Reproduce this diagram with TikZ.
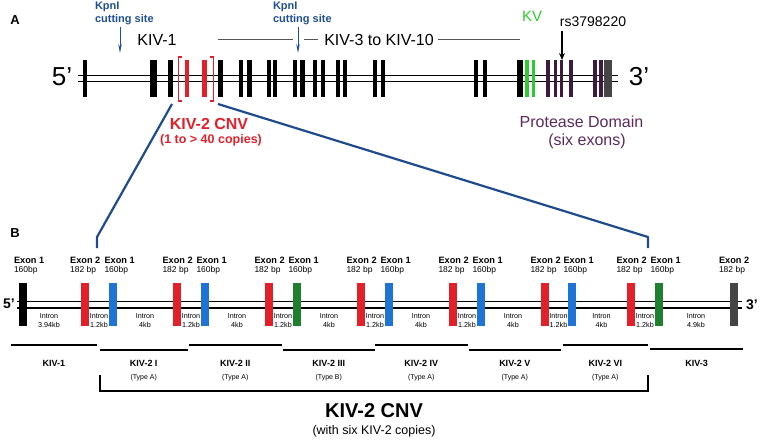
\documentclass[tikz,border=0pt]{standalone}
\usepackage{fontspec}
\setmainfont{Liberation Sans}
\usetikzlibrary{arrows.meta}
\definecolor{cred}{HTML}{E3202A}
\definecolor{cblue}{HTML}{1E73D6}
\definecolor{cgreen}{HTML}{1E7F2E}
\definecolor{lgreen}{HTML}{2DCB2D}
\definecolor{cpurple}{HTML}{3E1B3C}
\definecolor{cgray}{HTML}{454545}
\definecolor{navy}{HTML}{1F4B8E}
\definecolor{kblue}{HTML}{1F5096}
\definecolor{ptext}{HTML}{5B2A5B}
\definecolor{lgray}{HTML}{555555}
\newcommand\fsz[1]{\fontsize{#1}{#1}\selectfont}
\begin{document}
\begin{tikzpicture}[x=1pt,y=-1pt,
  every node/.style={inner sep=0pt, outer sep=0pt},
  gene/.style={line width=1.6pt},
  connect/.style={navy, line width=2.2pt, line join=round},
  kpn/.style={kblue, line width=0.8pt, -{Stealth[length=9pt,width=3.5pt]}},
  kpntxt/.style={kblue, font=\fsz{11}\bfseries},
  exA/.style={font=\fsz{9.2}\bfseries, anchor=base west},
  exB/.style={font=\fsz{8.5}, anchor=base west},
  intr/.style={font=\fsz{7.2}, anchor=base},
  seg/.style={line width=1.5pt},
  seglab/.style={font=\fsz{9}\bfseries, anchor=base},
  typelab/.style={font=\fsz{7}, anchor=base},
  bracket/.style={line width=1.6pt}
]
\useasboundingbox (0,0) rectangle (760,444);

% ---------------- Panel A ----------------
\node[font=\fsz{13}\bfseries] (labA) at (15,20) {A};

\draw[gene] (78,75.5) -- (618,75.5);
\draw[gene] (78,81.5) -- (618,81.5);

\foreach \x/\w/\c in {85/4/black,153/7/black,170.5/5/black,
  187/4.5/cred,204.5/5/cred,
  220.5/5/black,241/4.5/black,249.5/5/black,269/4.5/black,275/4.5/black,
  295/4.5/black,302.5/5/black,315/4.5/black,323/4.5/black,338/4.5/black,
  345/4.5/black,375/4.5/black,383/4.5/black,476/4.5/black,485/4.5/black,
  520/5.5/black,
  526.5/4/lgreen,533.5/3.5/lgreen,
  548/3.5/cpurple,555.5/3/cpurple,561.5/3.5/cpurple,571/3.5/cpurple,
  595/3.5/cpurple,601/3.5/cpurple,
  608/8/cgray}
  \fill[\c] ({\x-\w/2},60) rectangle ({\x+\w/2},97);

\node[font=\fsz{26}] (five) at (62,77) {5\char"27};
\node[font=\fsz{26}] (three) at (639,77) {3\char"27};

% KIV-2 bracket
\draw[cred, line width=1.2pt] (182,57) -- (178.5,57) -- (178.5,101) -- (182,101);
\draw[cred, line width=1.2pt] (210,57) -- (213.5,57) -- (213.5,101) -- (210,101);
\coordinate (brL) at (172,104);
\coordinate (brR) at (218,104);

% KpnI sites
\node[kpntxt, anchor=base west] (kpn1a) at (95,10) {KpnI};
\node[kpntxt, anchor=base west] (kpn1b) at (95,22.5) {cutting site};
\coordinate (k1s) at (120,27);
\coordinate (k1e) at (120,53);
\draw[kpn] (k1s) -- (k1e);
\node[kpntxt, anchor=base west] (kpn2a) at (273,10) {KpnI};
\node[kpntxt, anchor=base west] (kpn2b) at (273,22.5) {cutting site};
\coordinate (k2s) at (298,27);
\coordinate (k2e) at (298,53);
\draw[kpn] (k2s) -- (k2e);

\node[font=\fsz{16}] (kiv1) at (157,40) {KIV-1};
\node[font=\fsz{16}] (kiv310) at (379,40) {KIV-3 to KIV-10};
\coordinate (g1) at (218,40); \coordinate (g2) at (293,40);
\coordinate (g3) at (304,40); \coordinate (g4) at (318,40);
\coordinate (g5) at (438,40); \coordinate (g6) at (520,40);
\draw[lgray, line width=1pt] (g1) -- (g2) (g3) -- (g4) (g5) -- (g6);

\node[font=\fsz{15}, text=lgreen] (kv) at (532,16) {KV};
\node[font=\fsz{14}] (rs) at (593,22) {rs3798220};
\coordinate (rsa) at (562,31);
\coordinate (rsb) at (562,60);
\draw[line width=1.3pt, -{Stealth[length=7pt,width=6pt]}] (rsa) -- (rsb);

\node[font=\fsz{16}\bfseries, text=cred] (cnvA) at (209,124) {KIV-2 CNV};
\node[font=\fsz{12.5}\bfseries, text=cred] (cnvA2) at (211,140) {(1 to > 40 copies)};

\node[font=\fsz{16}, text=ptext] (prot) at (581.5,122) {Protease Domain};
\node[font=\fsz{16}, text=ptext] (prot2) at (587,141) {(six exons)};

% ---------------- Panel B ----------------
\node[font=\fsz{13}\bfseries] (labB) at (15,233) {B};

\draw[gene] (17,301.5) -- (742,301.5);
\draw[gene] (17,308) -- (742,308);
\node[font=\fsz{14}\bfseries] (fiveB) at (9,304) {5'};
\node[font=\fsz{14}\bfseries] (threeB) at (752,305) {3'};

\foreach \x/\c in {22.5/black,84.7/cred,113/cblue,177/cred,205/cblue,269/cred,
  297/cgreen,361/cred,389/cblue,453/cred,481/cblue,545/cred,572/cblue,
  631/cred,659/cgreen,733.5/cgray}
  \fill[\c] ({\x-4},283) rectangle ({\x+4},326);

% exon labels
\foreach \x [count=\i] in {22.5,113,205,297,389,481,572,659}{
  \node[exA] (eA\i) at ({\x-8.5},263) {Exon 1};
  \node[exB] (eB\i) at ({\x-8.5},272.5) {160bp};
}
\foreach \x [count=\i] in {84.7,177,269,361,453,545,631,733.5}{
  \node[exA] (fA\i) at ({\x-14.5},263) {Exon 2};
  \node[exB] (fB\i) at ({\x-14.5},272.5) {182 bp};
}

% intron labels
\foreach \x/\t [count=\i] in {49/3.94kb,99/1.2kb,145/4kb,191/1.2kb,237/4kb,283/1.2kb,
  329/4kb,375/1.2kb,421/4kb,467/1.2kb,513/4kb,558.5/1.2kb,601.5/4kb,645/1.2kb,696/4.9kb}{
  \node[intr] (iA\i) at (\x,318.5) {Intron};
  \node[intr] (iB\i) at (\x,327) {\t};
}

% connectors from panel A bracket to panel B
\coordinate (bL1) at (97,237);
\coordinate (bL2) at (97,248);
\coordinate (bR1) at (648,237);
\coordinate (bR2) at (648,248);
\draw[connect] (brL) -- (bL1) -- (bL2);
\draw[connect] (brR) -- (bR1) -- (bR2);

% segments
\foreach \a/\b/\y/\l/\t [count=\i] in {10.7/97/345/KIV-1/,100/187.5/350/KIV-2 I/(Type A),
  189/281.5/345/KIV-2 II/(Type A),282.5/375/350/KIV-2 III/(Type B),
  375/467.5/345/KIV-2 IV/(Type A),468.5/561/350/KIV-2 V/(Type A),
  562.5/648/345/KIV-2 VI/(Type A),650/743/349/KIV-3/}{
  \coordinate (sa\i) at (\a,\y);
  \coordinate (sb\i) at (\b,\y);
  \draw[seg] (sa\i) -- (sb\i);
  \node[seglab] (sl\i) at ({(\a+\b)/2},366.5) {\l};
  \node[typelab] (st\i) at ({(\a+\b)/2},379.5) {\t};
}

% bracket
\coordinate (c1) at (100,375);
\coordinate (c2) at (100,391);
\coordinate (c3) at (648,391);
\coordinate (c4) at (648,375);
\draw[bracket] (c1) -- (c2) -- (c3) -- (c4);

\node[font=\fsz{20}\bfseries] (cnvB) at (374,411) {KIV-2 CNV};
\node[font=\fsz{12.5}] (cnvB2) at (374,431) {(with six KIV-2 copies)};
\end{tikzpicture}
\end{document}
